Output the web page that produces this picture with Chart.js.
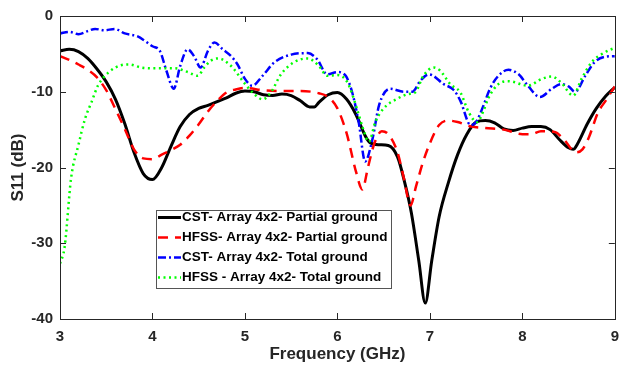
<!DOCTYPE html>
<html>
<head>
<meta charset="utf-8">
<script src="https://cdn.jsdelivr.net/npm/chart.js@4.4.1/dist/chart.umd.min.js"></script>
<style>
    html, body { margin: 0; padding: 0; background: #fff; }
    #wrap { width: 628px; height: 365px; }
</style>
</head>
<body>
<div id="wrap"><canvas id="chart-s11"></canvas></div>
<script>
const FONT = '"Liberation Sans", Arial, sans-serif';
const INK = '#262626';
const TICK = 6;

// ── S11 curves (GHz / dB) ───────────────────────────────────────────────────

const cstPartialF = [3.0, 3.1, 3.2, 3.3, 3.4, 3.5, 3.6, 3.7, 3.8, 3.9, 4.0, 4.1, 4.2, 4.3, 4.4, 4.5,
    4.6, 4.7, 4.8, 4.9, 5.0, 5.1, 5.2, 5.3, 5.4, 5.5, 5.6, 5.7, 5.75, 5.8, 5.9, 6.0, 6.1, 6.2,
    6.3, 6.35, 6.45, 6.55, 6.65, 6.72, 6.8, 6.88, 6.95, 7.02, 7.1, 7.2, 7.3, 7.4, 7.5, 7.6, 7.7,
    7.8, 7.9, 8.0, 8.1, 8.2, 8.3, 8.4, 8.5, 8.55, 8.6, 8.7, 8.8, 8.9, 9.0];
const cstPartialDb = [-4.6, -4.4, -4.7, -5.6, -7.0, -8.7, -11.0, -14.2, -18.0, -20.8, -21.6, -20.0,
    -17.2, -14.6, -13.0, -12.2, -11.8, -11.3, -10.8, -10.2, -9.9, -10.0, -10.4, -10.5, -10.3, -10.5,
    -11.2, -12.0, -12.0, -11.4, -10.4, -10.1, -11.0, -13.0, -15.8, -16.7, -17.0, -17.1, -18.6, -21.6,
    -26.0, -32.3, -37.9, -32.3, -26.5, -22.0, -18.3, -15.6, -14.0, -13.8, -14.1, -14.9, -15.1, -14.8,
    -14.6, -14.6, -15.0, -16.3, -17.4, -17.6, -16.8, -14.3, -12.2, -10.6, -9.4];

const hfssPartialF = [3.0, 3.1, 3.2, 3.3, 3.4, 3.5, 3.6, 3.7, 3.8, 3.9, 4.0, 4.1, 4.2, 4.3, 4.4, 4.5,
    4.6, 4.7, 4.8, 4.9, 5.0, 5.2, 5.4, 5.6, 5.8, 5.9, 6.0, 6.1, 6.2, 6.27, 6.33, 6.4, 6.48, 6.55,
    6.65, 6.72, 6.79, 6.85, 6.92, 7.0, 7.1, 7.2, 7.3, 7.45, 7.6, 7.8, 8.0, 8.1, 8.2, 8.35, 8.45,
    8.58, 8.65, 8.72, 8.82, 8.9, 9.0];
const hfssPartialDb = [-5.3, -5.8, -6.4, -7.1, -8.1, -9.8, -12.3, -14.9, -17.6, -18.8, -18.9, -18.3,
    -17.7, -17.0, -15.8, -14.3, -12.6, -11.2, -10.1, -9.7, -9.5, -9.8, -9.9, -9.9, -10.2, -10.7,
    -12.2, -15.5, -20.5, -22.9, -20.0, -16.8, -15.2, -15.6, -18.0, -21.5, -25.0, -22.5, -19.5, -16.8,
    -14.4, -13.8, -14.0, -14.6, -14.8, -15.0, -15.6, -15.6, -15.2, -15.3, -16.3, -18.0, -17.6, -16.0,
    -12.7, -11.2, -9.3];

const cstTotalF = [3.0, 3.1, 3.2, 3.3, 3.38, 3.48, 3.59, 3.7, 3.84, 3.92, 4.0, 4.08, 4.15, 4.23, 4.3,
    4.38, 4.45, 4.52, 4.6, 4.67, 4.76, 4.85, 4.92, 5.0, 5.08, 5.19, 5.32, 5.5, 5.68, 5.78, 5.89, 6.0,
    6.09, 6.16, 6.23, 6.3, 6.38, 6.45, 6.57, 6.72, 6.81, 6.9, 6.99, 7.15, 7.26, 7.33, 7.44, 7.5,
    7.58, 7.65, 7.74, 7.85, 7.96, 8.06, 8.19, 8.32, 8.42, 8.5, 8.57, 8.68, 8.78, 8.89, 9.0];
const cstTotalDb = [-2.3, -2.1, -2.4, -2.0, -1.7, -1.9, -1.7, -2.3, -2.7, -3.3, -4.0, -4.6, -7.2, -9.6,
    -6.6, -4.4, -5.3, -6.8, -4.6, -3.5, -4.4, -5.3, -6.4, -8.3, -9.2, -7.9, -6.1, -5.1, -4.9, -5.7,
    -7.7, -7.4, -7.9, -10.1, -14.0, -19.2, -16.2, -11.8, -9.6, -10.0, -10.0, -8.5, -7.7, -9.0, -9.8,
    -11.2, -14.4, -14.0, -11.8, -9.6, -7.9, -7.1, -7.7, -9.2, -10.7, -9.6, -9.0, -9.3, -10.0, -7.9,
    -6.1, -5.4, -5.3];

const hfssTotalF = [3.0, 3.05, 3.12, 3.2, 3.27, 3.34, 3.41, 3.52, 3.66, 3.75, 3.88, 4.02, 4.24, 4.38,
    4.49, 4.56, 4.63, 4.71, 4.85, 4.99, 5.1, 5.19, 5.28, 5.39, 5.53, 5.68, 5.8, 5.89, 6.0, 6.11,
    6.21, 6.27, 6.34, 6.41, 6.5, 6.65, 6.77, 6.84, 6.93, 7.04, 7.11, 7.22, 7.33, 7.42, 7.51, 7.58,
    7.63, 7.74, 7.85, 8.06, 8.21, 8.32, 8.42, 8.55, 8.64, 8.75, 8.89, 9.0];
const hfssTotalDb = [-32.7, -30.5, -21.4, -17.0, -13.6, -11.4, -9.2, -7.5, -6.5, -6.4, -6.8, -6.9,
    -6.9, -7.4, -7.9, -6.8, -5.9, -5.6, -6.6, -8.8, -10.3, -11.0, -10.1, -7.7, -6.1, -5.6, -6.6,
    -7.9, -7.8, -8.8, -12.2, -14.6, -16.6, -14.0, -12.2, -10.9, -10.3, -10.1, -7.9, -6.8, -7.2,
    -9.0, -10.1, -12.7, -14.0, -12.5, -10.9, -9.0, -8.6, -9.2, -8.3, -8.0, -8.8, -10.5, -8.3, -6.1,
    -4.8, -4.2];

const X_TICKS = [3, 4, 5, 6, 7, 8, 9];
const Y_TICKS = [-40, -30, -20, -10, 0];

// ── helpers ──────────────────────────────────────────────────────────────────

const pairs = (fs, dbs) => fs.map((f, i) => ({ x: f, y: dbs[i] }));

function makeDataset(label, fs, dbs, color, width, dash, order) {
    return {
        label,
        data: pairs(fs, dbs),
        borderColor: color,
        backgroundColor: color,
        borderWidth: width,
        borderDash: dash,
        pointRadius: 0,
        cubicInterpolationMode: 'monotone',
        fill: false,
        order,
    };
}

// MATLAB-like box with inward ticks, and the legend inside the plot
const framePlugin = {
    id: 'frame',
    afterDraw(chart) {
        const { ctx, chartArea: a, scales: { x, y } } = chart;
        ctx.save();
        ctx.strokeStyle = INK;
        ctx.lineWidth = 1;
        ctx.setLineDash([]);
        ctx.strokeRect(Math.round(a.left) + 0.5, Math.round(a.top) + 0.5,
            Math.round(a.right - a.left), Math.round(a.bottom - a.top));
        ctx.beginPath();
        X_TICKS.forEach(v => {
            const px = Math.round(x.getPixelForValue(v)) + 0.5;
            ctx.moveTo(px, a.bottom); ctx.lineTo(px, a.bottom - TICK);
            ctx.moveTo(px, a.top); ctx.lineTo(px, a.top + TICK);
        });
        Y_TICKS.forEach(v => {
            const py = Math.round(y.getPixelForValue(v)) + 0.5;
            ctx.moveTo(a.left, py); ctx.lineTo(a.left + TICK, py);
            ctx.moveTo(a.right, py); ctx.lineTo(a.right - TICK, py);
        });
        ctx.stroke();

        // legend box
        const lx = a.left + 96, ly = a.top + 194, lw = 235, lh = 78;
        ctx.fillStyle = '#fff';
        ctx.fillRect(lx, ly, lw, lh);
        ctx.strokeStyle = '#555';
        ctx.strokeRect(lx + 0.5, ly + 0.5, lw, lh);
        ctx.font = `bold 13.5px ${FONT}`;
        ctx.textBaseline = 'middle';
        ctx.fillStyle = '#000';
        chart.data.datasets.forEach((ds, i) => {
            const rowY = ly + 7.5 + i * 20;
            ctx.beginPath();
            ctx.strokeStyle = ds.borderColor;
            ctx.lineWidth = ds.borderWidth;
            ctx.setLineDash(ds.borderDash || []);
            ctx.moveTo(lx + 2, rowY);
            ctx.lineTo(lx + 25, rowY);
            ctx.stroke();
            ctx.setLineDash([]);
            ctx.fillText(ds.label, lx + 26, rowY);
        });
        ctx.restore();
    },
};

new Chart(document.getElementById('chart-s11'), {
    type: 'line',
    data: {
        datasets: [
            makeDataset('CST- Array 4x2- Partial ground', cstPartialF, cstPartialDb, '#000000', 3, [], 4),
            makeDataset('HFSS- Array 4x2- Partial ground', hfssPartialF, hfssPartialDb, '#ff0000', 2.5, [10, 7], 3),
            makeDataset('CST- Array 4x2- Total ground', cstTotalF, cstTotalDb, '#0000ff', 2.5, [8, 3, 2, 3], 2),
            makeDataset('HFSS - Array 4x2- Total ground', hfssTotalF, hfssTotalDb, '#00ff00', 2.5, [2, 3.5], 1),
        ],
    },
    options: {
        responsive: true,
        maintainAspectRatio: false,
        animation: false,
        layout: { padding: { top: 13, right: 11, left: 0, bottom: 0 } },
        plugins: {
            legend: { display: false },
            tooltip: { enabled: false },
        },
        scales: {
            x: {
                type: 'linear',
                min: 3,
                max: 9,
                afterFit: (s) => { s.height = 46; },
                afterBuildTicks: (s) => { s.ticks = X_TICKS.map(v => ({ value: v })); },
                grid: { display: false, drawTicks: false },
                border: { display: false },
                ticks: { color: INK, padding: 9, font: { family: FONT, size: 15, weight: 'bold' } },
                title: {
                    display: true,
                    text: 'Frequency (GHz)',
                    color: INK,
                    padding: { top: 0, bottom: 0 },
                    font: { family: FONT, size: 17, weight: 'bold' },
                },
            },
            y: {
                min: -40,
                max: 0,
                afterFit: (s) => { s.width = 60; },
                afterBuildTicks: (s) => { s.ticks = Y_TICKS.map(v => ({ value: v })); },
                grid: { display: false, drawTicks: false },
                border: { display: false },
                ticks: { color: INK, padding: 7, font: { family: FONT, size: 15, weight: 'bold' } },
                title: {
                    display: true,
                    text: 'S11 (dB)',
                    color: INK,
                    padding: { top: 8, bottom: 0 },
                    font: { family: FONT, size: 17, weight: 'bold' },
                },
            },
        },
    },
    plugins: [framePlugin],
});
</script>
</body>
</html>
